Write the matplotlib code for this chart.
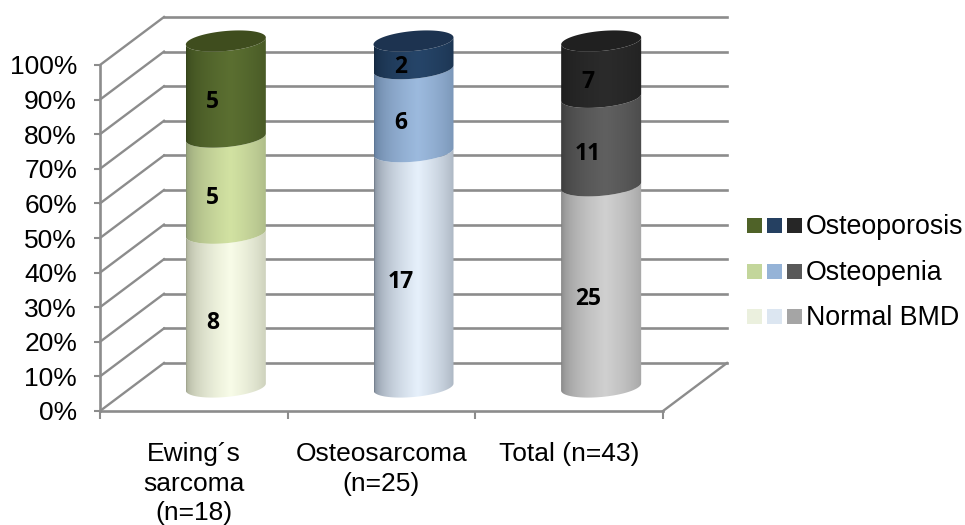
import numpy as np
import matplotlib
matplotlib.use('Agg')
import matplotlib.pyplot as plt
import matplotlib.colors as mc
from matplotlib.path import Path
from matplotlib.patches import PathPatch, Rectangle

categories=['Ewing´s\nsarcoma\n(n=18)','Osteosarcoma\n(n=25)','Total (n=43)']
series=['Normal BMD','Osteopenia','Osteoporosis']
normal=[8,17,25]
osteopenia=[5,6,11]
osteoporosis=[5,2,7]
yticks=[0,10,20,30,40,50,60,70,80,90,100]

# (edge,centre) colours for each stack, bottom to top, and the lid colour
shades=[[('#a2a690','#f8fce8'),('#8a9670','#d2e2a2'),('#35441a','#5b6f31')],
        [('#76818f','#e6f0fb'),('#5c7594','#9cbade'),('#14283f','#264569')],
        [('#808080','#d0d0d0'),('#383838','#606060'),('#1b1b1b','#2b2b2b')]]
lids=['#3f4d1e','#1d3350','#202020']
swatches=[['#ebf0de','#dce6f1','#a5a5a5'],
          ['#c3d69b','#95b3d7','#595959'],
          ['#4f6228','#254061','#262626']]
GRID='#8c8c8c'

W,H=965,525
x0,x1,ytop,ybot=100,663,65,411
ncat=len(categories)
pxx=(x1-x0)/ncat
pxy=(ybot-ytop)/100.
depth=(64/pxx,48/pxy)

def ellipse_arc(cx,y,t):
    # slightly tilted ring of the cylinder, sizes in pixels
    px=40*np.cos(t)
    py=10*np.sin(t)+3.5*np.cos(t)
    return cx+px/pxx,y+py/pxy

def gradient(edge,centre):
    e=np.array(mc.to_rgb(edge))
    c=np.array(mc.to_rgb(centre))
    t=np.linspace(0,1,80)
    w=np.clip(1-np.abs(t-0.55)/0.55,0,1)**0.42
    return (e[None,:]*(1-w[:,None])+c[None,:]*w[:,None])[None,:,:]

def draw_segment(ax,cx,lo,hi,edge,centre,z):
    t=np.linspace(np.pi,2*np.pi,50)
    xb,yb=ellipse_arc(cx,lo,t)
    xt,yt=ellipse_arc(cx,hi,t[::-1])
    verts=np.vstack((np.column_stack((xb,yb)),np.column_stack((xt,yt)),[[xb[0],yb[0]]]))
    patch=PathPatch(Path(verts,closed=True),transform=ax.transData,fc='none',ec='none')
    ax.add_patch(patch)
    im=ax.imshow(gradient(edge,centre),extent=(cx-40/pxx,cx+40/pxx,lo-15/pxy,hi+15/pxy),
                 aspect='auto',interpolation='bilinear',zorder=z)
    im.set_clip_path(patch)
    im.set_clip_box(fig.bbox)

fig=plt.figure(figsize=(W/100,H/100),dpi=100)
plt.rcParams['font.family']=['Liberation Sans','DejaVu Sans']
ax=fig.add_axes([x0/W,1-ybot/H,(x1-x0)/W,(ybot-ytop)/H])

# back wall, side wall and floor
for v in yticks:
    ax.plot([depth[0],ncat+depth[0]],[v+depth[1]]*2,color=GRID,lw=1.9,clip_on=False,zorder=1)
    ax.plot([0,depth[0]],[v,v+depth[1]],color=GRID,lw=1.7,clip_on=False,zorder=1)
ax.plot([ncat,ncat+depth[0]],[0,depth[1]],color=GRID,lw=1.7,clip_on=False,zorder=1)

values=np.array([normal,osteopenia,osteoporosis],dtype=float)
perc=values/values.sum(axis=0)*100
for i in range(ncat):
    cx=i+0.5+depth[0]/2
    cy=depth[1]/2
    base=0.
    for j in range(len(series)):
        top=base+perc[j,i]
        draw_segment(ax,cx,cy+base,cy+top,shades[i][j][0],shades[i][j][1],3+j)
        # value label sits a little left of the cylinder axis
        ax.text(i+0.5+19/pxx,base+perc[j,i]/2+11.5/pxy,'%d'%values[j,i],
                ha='center',va='center',fontsize=16.5,fontweight='bold',
                family=['Open Sans','DejaVu Sans'],color='k',zorder=10)
        base=top
    xl,yl=ellipse_arc(cx,cy+100,np.linspace(0,2*np.pi,100))
    ax.fill(xl,yl,color=lids[i],lw=0,clip_on=False,zorder=7)

ax.set_xlim(0,ncat)
ax.set_ylim(0,100)
for s in ['top','right']:
    ax.spines[s].set_visible(False)
for s in ['left','bottom']:
    ax.spines[s].set_color(GRID)
    ax.spines[s].set_linewidth(1.9)
ax.patch.set_alpha(0)
ax.set_yticks(yticks)
ax.set_yticklabels(['%d%%'%v for v in yticks],fontsize=19,color='k')
ax.set_xticks(range(ncat+1))
ax.set_xticklabels([])
ax.set_xticks(np.arange(ncat)+0.5,minor=True)
ax.set_xticklabels(categories,minor=True,fontsize=19,color='k',linespacing=1.28)
ax.tick_params(axis='y',length=4,width=1.5,color=GRID,pad=12.5)
ax.tick_params(axis='x',which='major',length=6,width=1.5,color=GRID)
ax.tick_params(axis='x',which='minor',length=0,pad=22.5)

# legend: one swatch per stack on each row
for row,name in enumerate(series):
    yc=[316,271,225][row]
    base_px=[325,280,234][row]
    for k,xs in enumerate([747,767,787]):
        fig.add_artist(Rectangle((xs/W,1-(yc+7.5)/H),15/W,15/H,transform=fig.transFigure,
                                 fc=swatches[row][k],ec='none'))
    fig.text(806/W,1-base_px/H,name,fontsize=19.3,ha='left',va='baseline',color='k')

plt.savefig('out.png',dpi=100)
